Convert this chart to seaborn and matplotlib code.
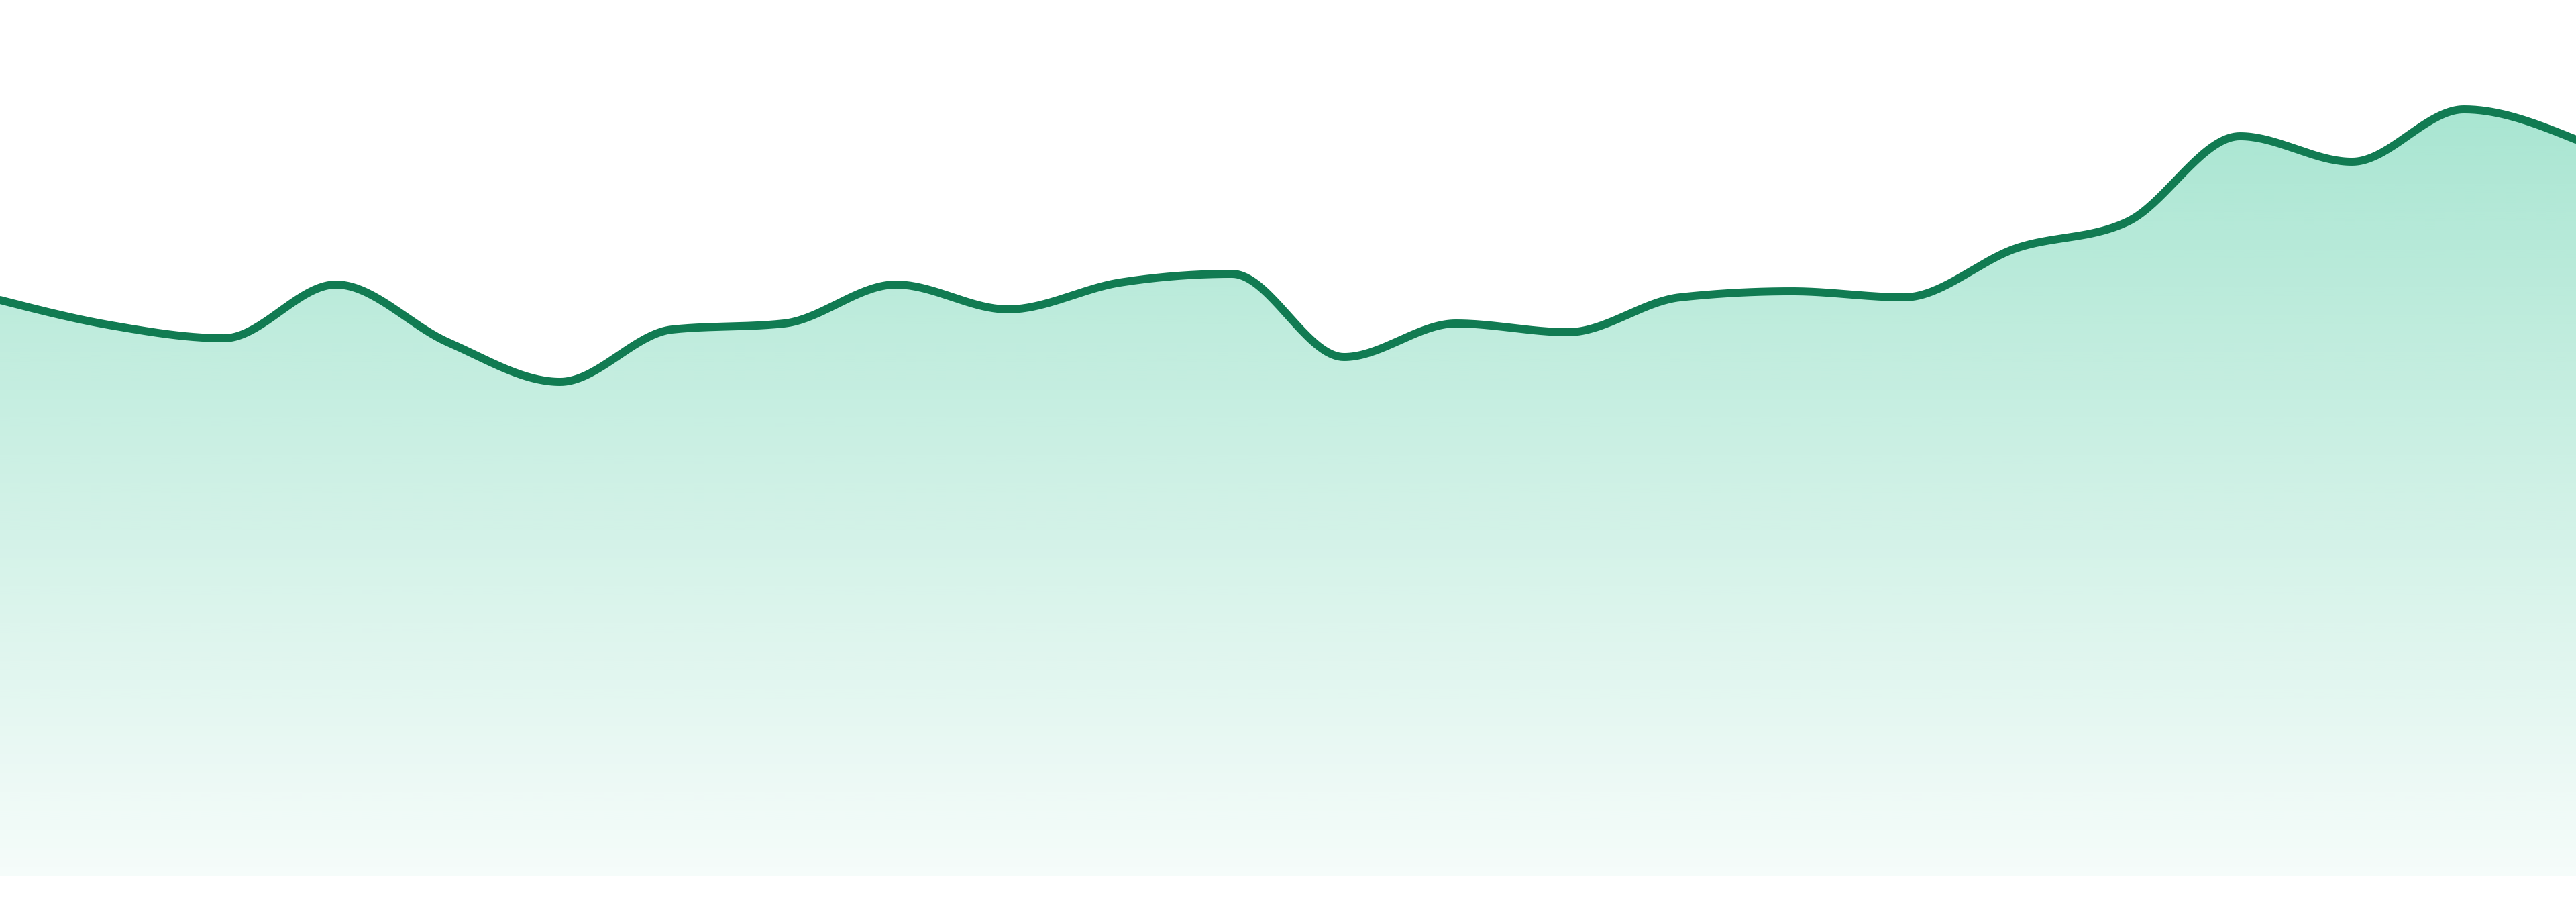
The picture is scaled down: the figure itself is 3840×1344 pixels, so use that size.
import matplotlib
matplotlib.use("Agg")
import matplotlib.pyplot as plt
from matplotlib.colors import to_rgb
import numpy as np
import pandas as pd
import seaborn as sns

# values, one point per step
steps = list(range(24))
values = [85.8, 82.0, 80.1, 88.1, 79.5, 73.6, 81.4, 82.3, 88.1, 84.4, 88.4, 89.7,
          77.3, 82.3, 81.0, 86.2, 87.1, 86.2, 93.5, 97.5, 110.2, 106.4, 114.2, 109.7]

line_color = "#117b52"
fill_color = "#10b981"


def monotone_x(x, y, n_per=40):
    '''monotone cubic (same idea as d3 curveMonotoneX), returns dense x, y'''
    x = np.asarray(x, float)
    y = np.asarray(y, float)
    h = np.diff(x)
    s = np.diff(y) / h
    t = np.zeros_like(y)
    for i in range(1, len(y) - 1):
        s0, s1 = s[i - 1], s[i]
        p = (s0 * h[i] + s1 * h[i - 1]) / (h[i - 1] + h[i])
        t[i] = (np.sign(s0) + np.sign(s1)) * min(abs(s0), abs(s1), 0.5 * abs(p))
    t[0] = (3 * s[0] - t[1]) / 2
    t[-1] = (3 * s[-1] - t[-2]) / 2
    xs, ys = [], []
    for i in range(len(h)):
        u = np.linspace(0, 1, n_per, endpoint=False)
        h00 = 2 * u**3 - 3 * u**2 + 1
        h10 = u**3 - 2 * u**2 + u
        h01 = -2 * u**3 + 3 * u**2
        h11 = u**3 - u**2
        xs.append(x[i] + u * h[i])
        ys.append(h00 * y[i] + h10 * h[i] * t[i] + h01 * y[i + 1] + h11 * h[i] * t[i + 1])
    xs.append([x[-1]])
    ys.append([y[-1]])
    return np.concatenate(xs), np.concatenate(ys)


xs, ys = monotone_x(steps, values)
df = pd.DataFrame({"step": xs, "value": ys})

sns.set_style("white")
fig = plt.figure(figsize=(38.4, 13.44), dpi=100)
ax = fig.add_axes([0, 39 / 1344, 1, 1305 / 1344])
ax.set_xlim(0, 23)
ax.set_ylim(0, 130.5)

# gradient fill under the curve
poly = ax.fill_between(df["step"], df["value"], 0, color="none", lw=0)
top = max(values)
rgb = to_rgb(fill_color)
alpha = np.linspace(0.36, 0.04, 256)
grad = np.zeros((256, 1, 4))
grad[:, 0, :3] = rgb
grad[:, 0, 3] = alpha
img = ax.imshow(grad, extent=[0, 23, 0, top], aspect="auto", origin="upper",
                interpolation="bilinear", zorder=1)
clip = poly.get_paths()[0]
img.set_clip_path(clip, transform=ax.transData)

sns.lineplot(data=df, x="step", y="value", color=line_color, linewidth=8.6,
             ax=ax, zorder=3, sort=False)

ax.set_axis_off()
fig.savefig("out.png", dpi=100, facecolor="white")
